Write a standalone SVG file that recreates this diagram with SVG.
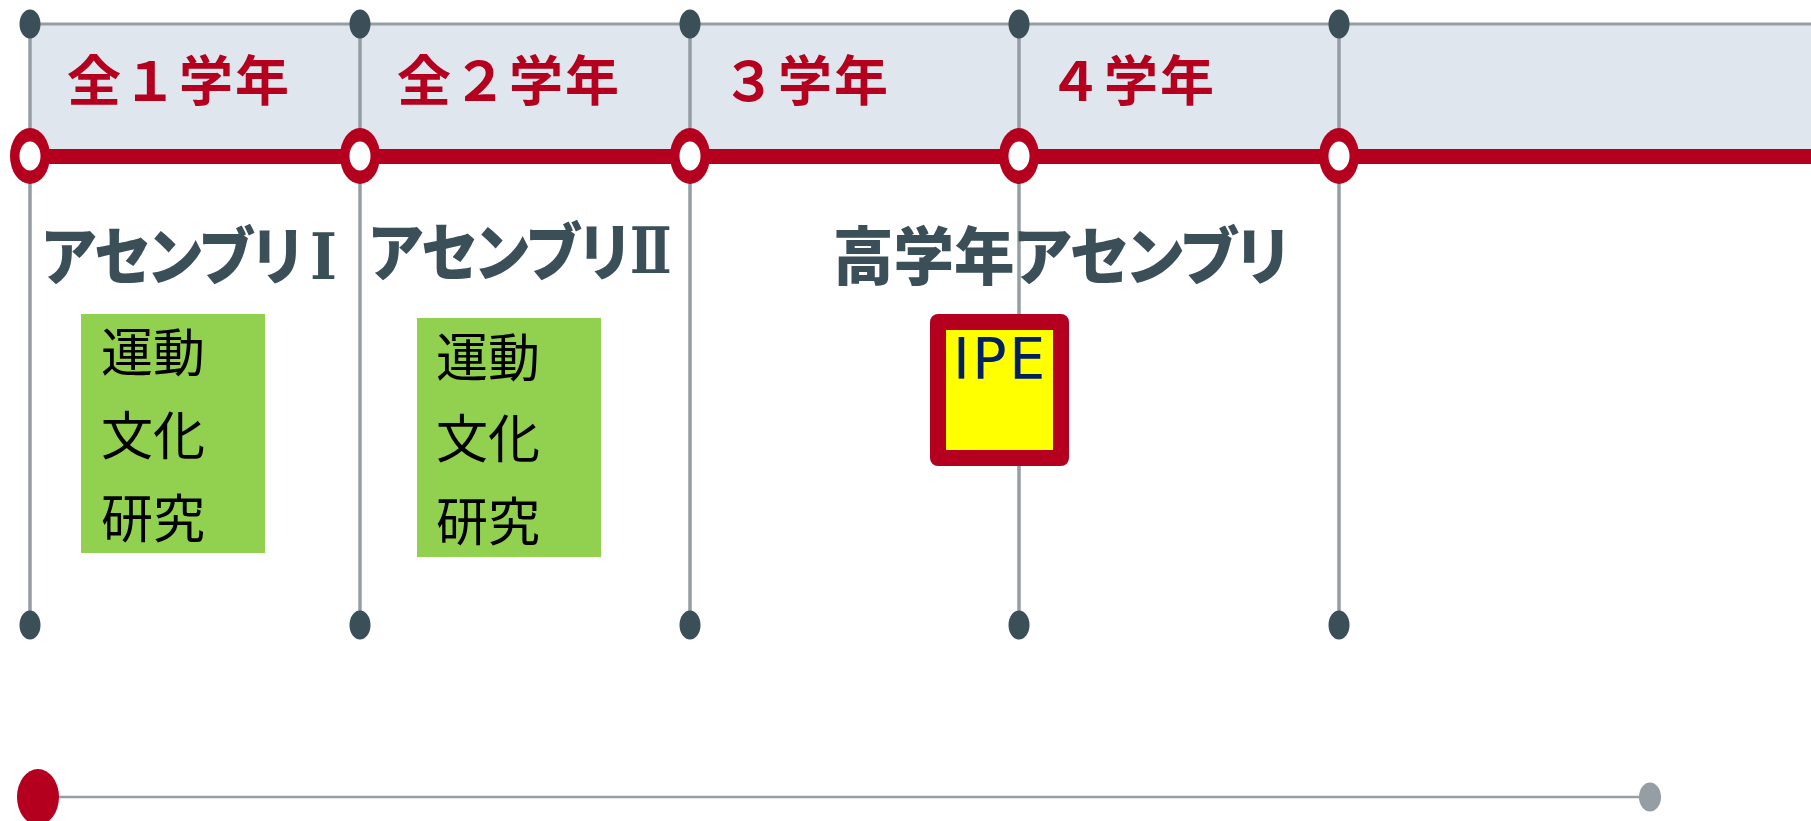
<svg xmlns="http://www.w3.org/2000/svg" width="1811" height="821" viewBox="0 0 1811 821">
<style>
.vline{stroke:#959DA5;stroke-width:3.5;fill:none}
.hline{stroke:#959DA5;stroke-width:3;fill:none}
.dot{fill:#3B4F58}
.ringo{fill:#B4001E}
.ringi{fill:#FFFFFF}
.hdr{font-family:"Noto Sans CJK JP","Noto Sans CJK SC",sans-serif;font-weight:bold;font-size:54px;fill:#B4001E}
.ttl{font-family:"Noto Sans CJK JP","Noto Sans CJK SC",sans-serif;font-weight:900;font-size:63px;fill:#3B4F58;font-feature-settings:"palt"}
.num{font-family:"DejaVu Serif","DejaVu Sans","Noto Sans CJK JP",serif;font-weight:bold;font-size:64px;fill:#3B4F58}
.item{font-family:"Noto Sans CJK JP","Noto Sans CJK SC",sans-serif;font-size:52px;fill:#000000}
.green{fill:#92D050}
</style>
<rect width="1811" height="821" fill="#FFFFFF"/>
<rect x="30" y="24" width="1781" height="132" fill="#DFE6EE"/>
<g id="connectors">
<line class="hline" x1="30" y1="24" x2="1811" y2="24"/>
<line class="vline" x1="30" y1="24" x2="30" y2="625"/>
<line class="vline" x1="360" y1="24" x2="360" y2="625"/>
<line class="vline" x1="690" y1="24" x2="690" y2="625"/>
<line class="vline" x1="1019" y1="24" x2="1019" y2="625"/>
<line class="vline" x1="1339" y1="24" x2="1339" y2="625"/>
<line x1="30" y1="156.5" x2="1811" y2="156.5" stroke="#B4001E" stroke-width="15"/>
<line x1="38" y1="797" x2="1650" y2="797" stroke="#959DA5" stroke-width="2.5"/>
<ellipse class="dot" cx="30" cy="24" rx="10.5" ry="14.5"/>
<ellipse class="dot" cx="360" cy="24" rx="10.5" ry="14.5"/>
<ellipse class="dot" cx="690" cy="24" rx="10.5" ry="14.5"/>
<ellipse class="dot" cx="1019" cy="24" rx="10.5" ry="14.5"/>
<ellipse class="dot" cx="1339" cy="24" rx="10.5" ry="14.5"/>
<ellipse class="dot" cx="30" cy="625" rx="10.5" ry="14.5"/>
<ellipse class="dot" cx="360" cy="625" rx="10.5" ry="14.5"/>
<ellipse class="dot" cx="690" cy="625" rx="10.5" ry="14.5"/>
<ellipse class="dot" cx="1019" cy="625" rx="10.5" ry="14.5"/>
<ellipse class="dot" cx="1339" cy="625" rx="10.5" ry="14.5"/>
<ellipse class="ringo" cx="30" cy="156" rx="20" ry="28"/>
<ellipse class="ringi" cx="30" cy="156" rx="10.5" ry="14.5"/>
<ellipse class="ringo" cx="360" cy="156" rx="20" ry="28"/>
<ellipse class="ringi" cx="360" cy="156" rx="10.5" ry="14.5"/>
<ellipse class="ringo" cx="690" cy="156" rx="20" ry="28"/>
<ellipse class="ringi" cx="690" cy="156" rx="10.5" ry="14.5"/>
<ellipse class="ringo" cx="1019" cy="156" rx="20" ry="28"/>
<ellipse class="ringi" cx="1019" cy="156" rx="10.5" ry="14.5"/>
<ellipse class="ringo" cx="1339" cy="156" rx="20" ry="28"/>
<ellipse class="ringi" cx="1339" cy="156" rx="10.5" ry="14.5"/>
<ellipse cx="38" cy="797" rx="21" ry="28" fill="#B4001E"/>
<ellipse cx="1650" cy="797" rx="11" ry="14.5" fill="#959DA5"/>
</g>
<g id="hdr1"><text class="hdr" x="67" y="101" letter-spacing="2">全１学年</text></g>
<g id="hdr2"><text class="hdr" x="397" y="101" letter-spacing="2">全２学年</text></g>
<g id="hdr3"><text class="hdr" x="722" y="101" letter-spacing="2">３学年</text></g>
<g id="hdr4"><text class="hdr" x="1048" y="101" letter-spacing="2">４学年</text></g>
<g id="title1">
<text class="ttl" transform="translate(42,279) scale(0.91,1)" x="0" y="0">アセンブリ</text>
<text class="num" transform="translate(310,279) scale(0.9,1)" x="0" y="0">Ⅰ</text>
</g>
<g id="title2">
<text class="ttl" transform="translate(369,275) scale(0.91,1)" x="0" y="0">アセンブリ</text>
<text class="num" transform="translate(630,273) scale(0.77,1)" x="0" y="0">Ⅱ</text>
</g>
<g id="title3"><text class="ttl" transform="translate(833,279) scale(0.96,1)" x="0" y="0">高学年アセンブリ</text></g>
<g id="box1">
<rect class="green" x="81" y="314" width="184" height="239"/>
<text class="item" x="101" y="372">運動</text>
<text class="item" x="101" y="455">文化</text>
<text class="item" x="101" y="538">研究</text>
</g>
<g id="box2">
<rect class="green" x="417" y="318" width="184" height="239"/>
<text class="item" x="436" y="377">運動</text>
<text class="item" x="436" y="458">文化</text>
<text class="item" x="436" y="541">研究</text>
</g>
<g id="ipe">
<rect x="938" y="322" width="123" height="136" fill="#FFFF00" stroke="#B4001E" stroke-width="16" stroke-linejoin="round"/>
<text x="953" y="379" font-family="DejaVu Sans, sans-serif" font-size="57" letter-spacing="2.5" fill="#002060">IPE</text>
</g>
</svg>
